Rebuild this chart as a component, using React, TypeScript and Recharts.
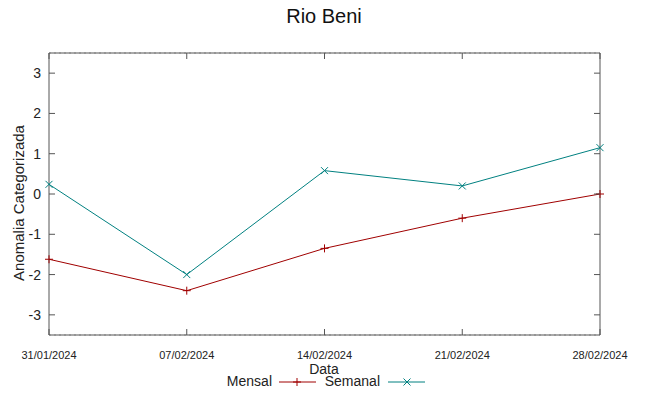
import React from 'react';
import { LineChart, Line, XAxis, YAxis, CartesianGrid } from 'recharts';

const dates = ['31/01/2024', '07/02/2024', '14/02/2024', '21/02/2024', '28/02/2024'];
const mensal = [-1.62, -2.4, -1.35, -0.6, 0];
const semanal = [0.24, -2.0, 0.58, 0.2, 1.15];
const yTicks = [-3, -2, -1, 0, 1, 2, 3];
const xTicks = [0, 1, 2, 3, 4];

const RED = '#a00000';
const TEAL = '#008080';
const AXIS = '#555555';
const FONT = '"Liberation Sans", Arial, sans-serif';

const data = dates.map((d, i) => ({ i, date: d, mensal: mensal[i], semanal: semanal[i] }));

const PlusDot = (p: any) => {
  const { cx, cy } = p;
  if (cx == null || cy == null) return null;
  return <path d={`M${cx - 4},${cy}h8M${cx},${cy - 4}v8`} stroke={RED} strokeWidth={1} fill="none" />;
};
const XDot = (p: any) => {
  const { cx, cy } = p;
  if (cx == null || cy == null) return null;
  const s = 3.5;
  return (
    <path
      d={`M${cx - s},${cy - s}L${cx + s},${cy + s}M${cx - s},${cy + s}L${cx + s},${cy - s}`}
      stroke={TEAL}
      strokeWidth={1}
      fill="none"
    />
  );
};

const LeftTick = (p: any) => {
  const { x, y, payload } = p;
  return (
    <g>
      <line x1={x + 8} x2={x + 14} y1={y} y2={y} stroke={AXIS} />
      <text x={x} y={y} textAnchor="end" dominantBaseline="central" fontSize={14} fill="#222" fontFamily={FONT}>
        {payload.value}
      </text>
    </g>
  );
};
const RightTick = (p: any) => {
  const { x, y } = p;
  return <line x1={x - 8} x2={x - 14} y1={y} y2={y} stroke={AXIS} />;
};
const BottomTick = (p: any) => {
  const { x, y, payload } = p;
  return (
    <g>
      <line x1={x} x2={x} y1={y - 8} y2={y - 14} stroke={AXIS} />
      <text x={x} y={y + 12} textAnchor="middle" dominantBaseline="central" fontSize={11} fill="#222" fontFamily={FONT}>
        {dates[payload.value]}
      </text>
    </g>
  );
};
const TopTick = (p: any) => {
  const { x, y } = p;
  return <line x1={x} x2={x} y1={y + 8} y2={y + 14} stroke={AXIS} />;
};

export default function App() {
  return (
    <div style={{ position: 'absolute', left: 0, top: 0, width: 648, height: 396, background: '#fff', fontFamily: FONT }}>
      <LineChart
        width={648}
        height={396}
        data={data}
        margin={{ top: 23, right: 18, bottom: 1, left: 9 }}
      >
        <CartesianGrid vertical={false} stroke="#aaaaaa" strokeDasharray="2 3" />
        <XAxis
          xAxisId="b"
          dataKey="i"
          type="number"
          domain={[0, 4]}
          ticks={xTicks}
          height={60}
          tickSize={0}
          tickMargin={8}
          tickLine={false}
          axisLine={{ stroke: AXIS }}
          tick={<BottomTick />}
        />
        <XAxis
          xAxisId="t"
          orientation="top"
          dataKey="i"
          type="number"
          domain={[0, 4]}
          ticks={xTicks}
          height={30}
          tickSize={0}
          tickMargin={8}
          tickLine={false}
          axisLine={{ stroke: AXIS }}
          tick={<TopTick />}
        />
        <YAxis
          yAxisId="l"
          type="number"
          domain={[-3.5, 3.5]}
          ticks={yTicks}
          width={40}
          tickSize={0}
          tickMargin={8}
          tickLine={false}
          axisLine={{ stroke: AXIS }}
          tick={<LeftTick />}
          allowDataOverflow
        />
        <YAxis
          yAxisId="r"
          orientation="right"
          type="number"
          domain={[-3.5, 3.5]}
          ticks={yTicks}
          width={30}
          tickSize={0}
          tickMargin={8}
          tickLine={false}
          axisLine={{ stroke: AXIS }}
          tick={<RightTick />}
          allowDataOverflow
        />
        <Line
          xAxisId="b"
          yAxisId="l"
          dataKey="mensal"
          stroke={RED}
          strokeWidth={1}
          dot={<PlusDot />}
          activeDot={false}
          isAnimationActive={false}
        />
        <Line
          xAxisId="b"
          yAxisId="l"
          dataKey="semanal"
          stroke={TEAL}
          strokeWidth={1}
          dot={<XDot />}
          activeDot={false}
          isAnimationActive={false}
        />
      </LineChart>
      <div style={{ position: 'absolute', left: 0, width: 648, top: 5, textAlign: 'center', fontSize: 20, color: '#111' }}>
        Rio Beni
      </div>
      <div
        style={{
          position: 'absolute',
          left: 18,
          top: 203,
          transform: 'translate(-50%, -50%) rotate(-90deg)',
          whiteSpace: 'nowrap',
          fontSize: 15,
          color: '#222',
        }}
      >
        Anomalia Categorizada
      </div>
      <div style={{ position: 'absolute', left: 0, width: 648, top: 361, textAlign: 'center', fontSize: 14, color: '#222' }}>
        Data
      </div>
      <div style={{ position: 'absolute', right: 376, top: 373, fontSize: 14, color: '#222' }}>Mensal</div>
      <svg style={{ position: 'absolute', left: 279, top: 375 }} width={40} height={14}>
        <line x1={0} x2={37} y1={7} y2={7} stroke={RED} />
        <path d="M18,3v8M14,7h8" stroke={RED} />
      </svg>
      <div style={{ position: 'absolute', right: 268, top: 373, fontSize: 14, color: '#222' }}>Semanal</div>
      <svg style={{ position: 'absolute', left: 388, top: 375 }} width={40} height={14}>
        <line x1={0} x2={37} y1={7} y2={7} stroke={TEAL} />
        <path d="M15.5,3.5L22.5,10.5M15.5,10.5L22.5,3.5" stroke={TEAL} />
      </svg>
    </div>
  );
}
